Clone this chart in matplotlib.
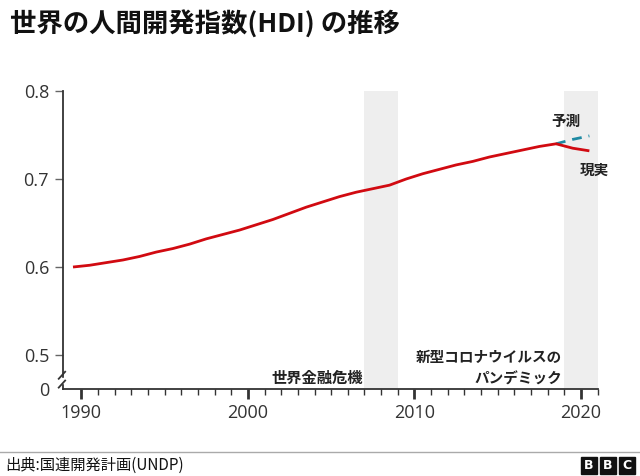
import numpy as np
import matplotlib.pyplot as plt
from matplotlib.patches import Rectangle

plt.rcParams['font.family'] = ['Open Sans', 'Noto Sans CJK JP', 'DejaVu Sans']

# World HDI
years = list(range(1990, 2022))
hdi = [0.600, 0.602, 0.605, 0.608, 0.612, 0.617, 0.621, 0.626, 0.632, 0.637,
       0.642, 0.648, 0.654, 0.661, 0.668, 0.674, 0.680, 0.685, 0.689, 0.693,
       0.700, 0.706, 0.711, 0.716, 0.720, 0.725, 0.729, 0.733, 0.737, 0.740,
       0.735, 0.732]
forecast_years = [2019, 2020, 2021]
forecast = [0.740, 0.745, 0.749]

# shaded periods (year bands)
crisis_spans = [(2007.5, 2009.5), (2019.5, 2021.5)]
yticks = [0.5, 0.6, 0.7, 0.8]
xtick_years = [1990, 2000, 2010, 2020]

red = '#d10a11'
teal = '#1f8aa3'
dark = '#333333'
cjk = ['Noto Sans CJK JP', 'DejaVu Sans']

fig = plt.figure(figsize=(6.4, 4.76), dpi=100)
ax = fig.add_axes([63/640, 1 - 389/476, (597.7 - 63)/640, (389 - 91)/476])

ymin, ymax = 0.4614, 0.8
ax.set_xlim(1989.4, 2021.5)
ax.set_ylim(ymin, ymax)

for a, b in crisis_spans:
    ax.axvspan(a, b, color='#eeeeee', zorder=0, lw=0)

ax.plot(years, hdi, color=red, lw=2, zorder=3, solid_capstyle='butt')
ax.plot(forecast_years, forecast, color=teal, lw=2, ls=(0, (3.5, 2.5)), zorder=2)

for s in ['top', 'right']:
    ax.spines[s].set_visible(False)
for s in ['left', 'bottom']:
    ax.spines[s].set_color(dark)
    ax.spines[s].set_linewidth(1.3)

ax.set_yticks([ymin] + yticks)
ax.set_yticklabels(['0'] + [f'{v:.1f}' for v in yticks])
ax.yaxis.get_major_ticks()[0].tick1line.set_visible(False)
ax.tick_params(axis='y', length=6, width=1, color='#666666', labelsize=13,
               labelcolor=dark, pad=4)

# ticks sit at the middle of each year band
ax.set_xticks([y + 0.5 for y in xtick_years])
ax.set_xticklabels([str(y) for y in xtick_years])
ax.set_xticks([y + 0.5 for y in range(1990, 2022)], minor=True)
ax.tick_params(axis='x', which='major', length=7, width=2, color=dark,
               labelsize=13, labelcolor=dark, pad=4)
ax.tick_params(axis='x', which='minor', length=4, width=1, color=dark)

# axis break marks
for yb in [0.477, 0.467]:
    ax.plot([-0.008, 0.004], [yb - 0.004, yb + 0.004], color=dark, lw=1.3,
            transform=ax.get_yaxis_transform(), clip_on=False, zorder=5)
ax.add_patch(Rectangle((-0.006, 0.4685), 0.012, 0.0055, color='white',
                       transform=ax.get_yaxis_transform(), clip_on=False, zorder=4))

ax.text(2007.4, 0.474, '世界金融危機', ha='right', va='center',
        fontsize=11, fontweight='bold', family=cjk, color='#222222')
ax.text(2019.35, 0.486, '新型コロナウイルスの\nパンデミック', ha='right',
        va='center', fontsize=10.5, fontweight='bold', family=cjk,
        color='#222222', linespacing=1.45, multialignment='right')
ax.text(2019.6, 0.766, '予測', ha='center', va='center', fontsize=10.5,
        fontweight='bold', family=cjk, color='#222222')
ax.text(2021.3, 0.711, '現実', ha='center', va='center', fontsize=10.5,
        fontweight='bold', family=cjk, color='#222222')

fig.text(10/640, 1 - 25/476, '世界の人間開発指数(HDI) の推移', ha='left',
         va='center', fontsize=19, fontweight='bold', family=cjk, color='#111111')

# footer
fig.add_artist(plt.Line2D([0, 1], [1 - 452/476] * 2, color='#aaaaaa', lw=1))
fig.text(5/640, 1 - 465/476, '出典:国連開発計画(UNDP)', ha='left', va='center',
         fontsize=11, family=cjk, color='#111111')
for i, letter in enumerate('BBC'):
    x0 = 581 + i * 19
    fig.add_artist(Rectangle((x0/640, 1 - 474/476), 16/640, 17/476,
                             color='#111111', transform=fig.transFigure))
    fig.text((x0 + 8)/640, 1 - 465.5/476, letter, ha='center', va='center',
             fontsize=9, fontweight='bold', color='white', family='DejaVu Sans')

fig.savefig('out.png', dpi=100)
